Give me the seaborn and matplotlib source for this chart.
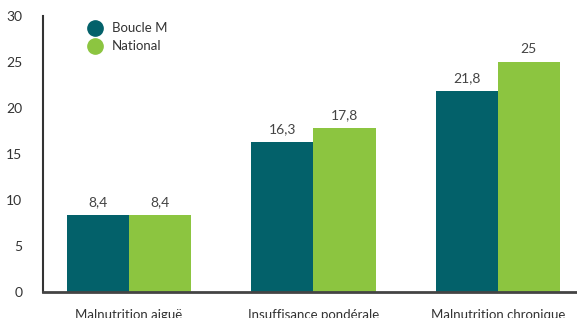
import matplotlib
matplotlib.use("Agg")
import matplotlib.pyplot as plt
import seaborn as sns
import pandas as pd
from matplotlib.lines import Line2D

categories = ["Malnutrition aiguë", "Insuffisance pondérale", "Malnutrition chronique"]
series_names = ["Boucle M", "National"]
boucle_m = [8.4, 16.3, 21.8]
national = [8.4, 17.8, 25.0]
value_labels_boucle = ["8,4", "16,3", "21,8"]
value_labels_national = ["8,4", "17,8", "25"]
y_ticks = [0, 5, 10, 15, 20, 25, 30]

colors = ["#03616A", "#8CC540"]

df = pd.DataFrame({
    "cat": categories * 2,
    "serie": [series_names[0]] * 3 + [series_names[1]] * 3,
    "val": boucle_m + national,
})

sns.set_theme(style="white")
plt.rcParams["font.family"] = ["Lato", "DejaVu Sans"]

fig = plt.figure(figsize=(5.77, 3.18), dpi=100)
ax = fig.add_axes([0.0745, 0.0818, 0.9255, 0.868])

sns.barplot(data=df, x="cat", y="val", hue="serie", palette=colors,
            width=0.674, saturation=1, ax=ax, legend=False, linewidth=0)

labels = [value_labels_boucle, value_labels_national]
for cont, labs in zip(ax.containers, labels):
    ax.bar_label(cont, labels=labs, padding=5, fontsize=10, color="#444444")

ax.set_ylim(0, 30)
ax.set_xlim(-0.467, 2.43)
ax.set_yticks(y_ticks)
ax.set_yticklabels([str(t) for t in y_ticks], fontsize=10, color="#333333")
ax.tick_params(axis="y", length=0, pad=15)
ax.tick_params(axis="x", length=0, pad=12, labelsize=9.5, labelcolor="#333333")
ax.set_xlabel("")
ax.set_ylabel("")
for s in ["top", "right"]:
    ax.spines[s].set_visible(False)
ax.spines["left"].set_color("#333333")
ax.spines["left"].set_linewidth(1.5)
ax.spines["bottom"].set_color("#444444")
ax.spines["bottom"].set_linewidth(2)

handles = [Line2D([0], [0], marker="o", linestyle="", markersize=11,
                  markerfacecolor=c, markeredgecolor=c) for c in colors]
ax.legend(handles, series_names, loc="upper left", bbox_to_anchor=(0.05, 1.02),
          frameon=False, fontsize=9.5, handletextpad=0.3, labelspacing=0.45,
          labelcolor="#333333")

fig.savefig("out.png", dpi=100)
